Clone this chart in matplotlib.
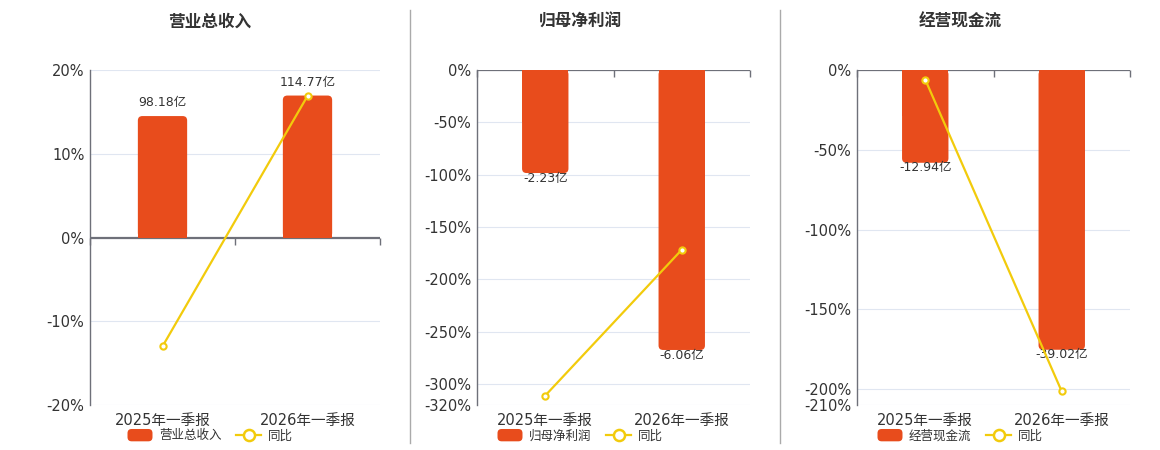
import matplotlib
matplotlib.use("Agg")
import matplotlib.pyplot as plt
from matplotlib.patches import FancyBboxPatch, Rectangle, Patch
from matplotlib.lines import Line2D
from matplotlib.ticker import FixedLocator, FuncFormatter
from matplotlib.legend_handler import HandlerPatch

plt.rcParams['font.family'] = ['DejaVu Sans', 'Noto Sans CJK SC']

categories = ['2025年一季报', '2026年一季报']
titles = ['营业总收入', '归母净利润', '经营现金流']
bar_values = [[98.18, 114.77], [-2.23, -6.06], [-12.94, -39.02]]
bar_labels = [['98.18亿', '114.77亿'], ['-2.23亿', '-6.06亿'], ['-12.94亿', '-39.02亿']]
yoy_values = [[-13.0, 16.9], [-311.0, -171.7], [-6.0, -201.5]]
yticks = [[-20, -10, 0, 10, 20],
          [-320, -300, -250, -200, -150, -100, -50, 0],
          [-210, -200, -150, -100, -50, 0]]
ylims = [(-20, 20), (-320, 0), (-210, 0)]
bar_scale = [98.18 / 14.5, 0.02266, 0.2225]

BAR = '#E84C1C'
LINE = '#F2CB0C'
TXT = '#333333'
AX = '#6E7079'
GRID = '#E0E6F1'

W, H = 1160, 450
fig = plt.figure(figsize=(W / 100, H / 100), dpi=100)

axes_px = [(90, 380), (477, 750), (857, 1130)]
top_px, bot_px = 70, 405
title_x = [210, 580, 960]


class RoundHandler(HandlerPatch):
    def create_artists(self, legend, orig_handle, xdescent, ydescent, width, height, fontsize, trans):
        p = FancyBboxPatch((-xdescent, -ydescent - 1), width, height + 2,
                           boxstyle='round,pad=0,rounding_size=3',
                           facecolor=orig_handle.get_facecolor(), edgecolor='none',
                           transform=trans)
        return [p]


for i in range(3):
    l, r = axes_px[i]
    ax = fig.add_axes([l / W, 1 - bot_px / H, (r - l) / W, (bot_px - top_px) / H])
    ax.set_ylim(*ylims[i])
    ax.set_xlim(-0.5, 1.5)
    ax.yaxis.set_major_locator(FixedLocator(yticks[i]))
    ax.yaxis.set_major_formatter(FuncFormatter(lambda v, p: f'{int(v)}%'))
    ax.tick_params(axis='y', length=0, labelsize=10.5, colors=TXT, pad=4)
    ax.grid(axis='y', color=GRID, lw=0.8)
    ax.set_axisbelow(True)
    for s in ['top', 'right', 'bottom']:
        ax.spines[s].set_visible(False)
    ax.spines['left'].set_color(AX)
    ax.spines['left'].set_linewidth(1.0)
    ax.axhline(0, color=AX, lw=1.6, zorder=4)
    ax.set_xticks([0, 1])
    ax.set_xticklabels(categories)
    ax.tick_params(axis='x', length=0, labelsize=10.5, colors=TXT, pad=6)
    for xb in [-0.5, 0.5, 1.5]:
        ax.plot([xb], [0], marker=3, markersize=5, markeredgewidth=1.0, color=AX,
                clip_on=False, zorder=5)

    tw = ax.twinx()
    lo, hi = ylims[i]
    tw.set_ylim(lo * bar_scale[i], hi * bar_scale[i])
    tw.set_xlim(-0.5, 1.5)
    tw.axis('off')
    bars = tw.bar([0, 1], bar_values[i], width=0.34, color=BAR, zorder=2)
    xpx = (r - l) / 2.0
    ypx = (bot_px - top_px) / ((hi - lo) * bar_scale[i])
    rad = 4.5
    for b in bars:
        b.set_visible(False)
        x0, w, h = b.get_x(), b.get_width(), b.get_height()
        fb = FancyBboxPatch((x0, min(0, h)), w, abs(h),
                            boxstyle=f'round,pad=0,rounding_size={rad / xpx}',
                            mutation_aspect=xpx / ypx,
                            facecolor=BAR, edgecolor='none', zorder=2)
        tw.add_patch(fb)
        tw.add_patch(Rectangle((x0, min(0, h / 2)), w, abs(h) / 2,
                               facecolor=BAR, edgecolor='none', zorder=2))
    for j, b in enumerate(bars):
        h = b.get_height()
        xc = b.get_x() + b.get_width() / 2
        if h >= 0:
            tw.annotate(bar_labels[i][j], (xc, h), xytext=(0, 5), textcoords='offset points',
                        ha='center', va='bottom', fontsize=9, color=TXT, zorder=6)
        else:
            tw.annotate(bar_labels[i][j], (xc, h), xytext=(0, 1), textcoords='offset points',
                        ha='center', va='top', fontsize=9, color=TXT, zorder=6)

    lax = ax.twinx()
    lax.set_ylim(*ylims[i])
    lax.set_xlim(-0.5, 1.5)
    lax.axis('off')
    lax.plot([0, 1], yoy_values[i], color=LINE, lw=1.6, marker='o', markersize=4.5,
             markerfacecolor='white', markeredgecolor=LINE, markeredgewidth=1.5, zorder=7)

    fig.text(title_x[i] / W, 1 - 22 / H, titles[i], ha='center', va='center',
             fontsize=12, fontweight='bold', color=TXT,
             family=['Noto Sans CJK SC', 'DejaVu Sans'])

    bar_handle = Patch(facecolor=BAR, edgecolor='none')
    handles = [bar_handle,
               Line2D([0], [0], color=LINE, lw=1.6, marker='o', markersize=8,
                      markerfacecolor='white', markeredgecolor=LINE, markeredgewidth=1.8)]
    leg = fig.legend(handles, [titles[i], '同比'], loc='center',
                     bbox_to_anchor=(title_x[i] / W, 1 - 436 / H), ncol=2, frameon=False,
                     handlelength=2.0, handleheight=0.8, columnspacing=1.2,
                     handletextpad=0.5, borderpad=0,
                     handler_map={Patch: RoundHandler()},
                     prop={'family': ['Noto Sans CJK SC', 'DejaVu Sans'], 'size': 9})
    for t in leg.get_texts():
        t.set_color(TXT)

for xs in [410, 780]:
    fig.add_artist(Line2D([xs / W, xs / W], [1 - 10 / H, 1 - 443 / H],
                          color='#AAAAAA', lw=1.0))

fig.savefig('out.png', dpi=100)
